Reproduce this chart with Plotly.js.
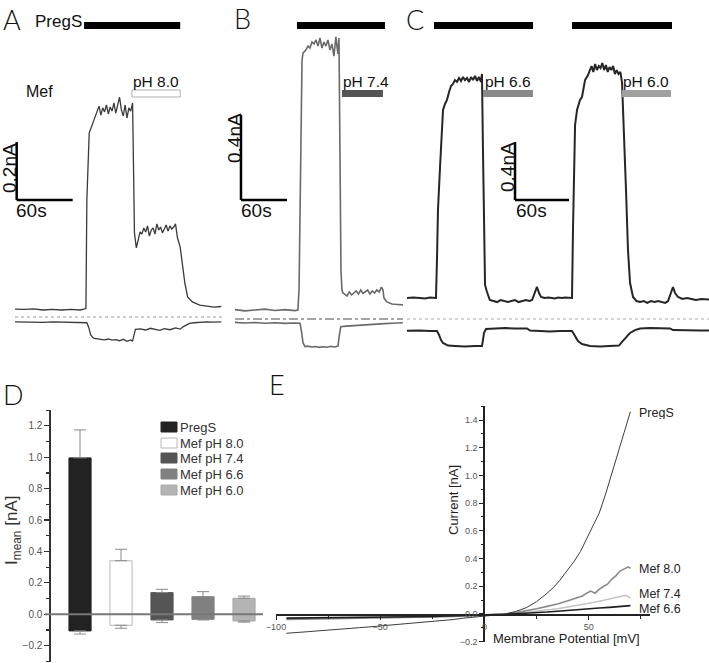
<!DOCTYPE html>
<html><head><meta charset="utf-8">
<script src="https://cdn.plot.ly/plotly-3.0.1.min.js"></script>
<style>html,body{margin:0;padding:0;background:#fff}#plot{width:709px;height:663px}</style>
</head><body><div id="plot"></div>
<script>
// ---------- DATA ----------
// Panel A (PregS then Mef pH 8.0) : time [s], current [nA]
const tA_up = [0,10,20,30,40,50,60,70,76,77,79.5,82,84,86,
  88,90,92,94,96,98,100,102,104,106,108,110,112,114,116,118,120,122,124,126,
  127,128,130,
  132,134,136,138,140,142,144,146,148,150,152,154,156,158,160,162,164,166,168,170,172,
  174,177,180,182,185,190,198,205,213,221];
const iA_up = [0.003,0.002,0.004,0.000,0.002,0.000,0.002,0.000,0.005,0.380,0.610,0.631,0.648,0.668,
  0.686,0.703,0.672,0.697,0.683,0.707,0.676,0.700,0.686,0.714,0.679,0.703,0.734,0.690,0.669,0.707,0.662,0.697,0.686,0.714,
  0.450,0.266,0.214,
  0.248,0.269,0.262,0.283,0.269,0.290,0.255,0.276,0.283,0.262,0.297,0.276,0.286,0.266,0.279,0.293,0.272,0.290,0.279,0.286,0.297,
  0.250,0.217,0.148,0.093,0.045,0.028,0.017,0.014,0.010,0.012];
const tA_lo = [0,10,20,30,40,50,60,70,77,79,81,84,88,92,96,100,104,108,112,116,120,124,126,128,129,
  134,140,145,150,155,160,166,172,177,180,183,187,192,198,205,212,221];
const iA_lo = [-0.041,-0.042,-0.041,-0.043,-0.041,-0.042,-0.041,-0.043,-0.044,-0.060,-0.085,-0.097,
  -0.100,-0.101,-0.103,-0.100,-0.104,-0.102,-0.106,-0.101,-0.108,-0.103,-0.107,-0.075,-0.067,
  -0.065,-0.069,-0.063,-0.066,-0.070,-0.064,-0.068,-0.062,-0.066,-0.058,-0.052,-0.046,-0.044,-0.042,-0.041,-0.042,-0.041];

// Panel B (PregS then Mef pH 7.4)
const tB_up = [0,13,26,39,52,65,78,82,83.5,84.8,86,87.4,88.7,
  90.0,92.6,95.2,97.8,100.4,103.0,105.6,108.2,110.8,113.4,116.0,118.6,121.2,123.8,126.4,129.0,131.6,134.2,
  135.6,136.9,138.2,139.5,140.8,
  143,146,149,152,155,158,161,164,167,170,173,176,179,182,185,188,191,193,
  194.3,198.2,204.7,212,219];
const iB_up = [0.002,-0.004,0.000,0.004,-0.002,0.002,-0.003,0.000,0.094,0.518,0.988,1.176,1.209,
  1.214,1.224,1.242,1.233,1.261,1.252,1.271,1.242,1.280,1.233,1.261,1.242,1.271,1.224,1.252,1.195,1.285,1.205,
  1.280,0.753,0.188,0.094,0.080,
  0.075,0.066,0.085,0.071,0.080,0.090,0.075,0.094,0.078,0.085,0.094,0.075,0.090,0.080,0.094,0.085,0.108,0.094,
  0.056,0.038,0.028,0.026,0.024];
const tB_lo = [0,13,26,39,52,65,78,84.8,87,88.7,91.3,95,100,105,110,115,120,125,130,134.3,136,138,145,155,165,175,185,195,205,219];
const iB_lo = [-0.058,-0.061,-0.059,-0.062,-0.060,-0.063,-0.061,-0.062,-0.108,-0.155,-0.172,-0.170,-0.174,-0.172,-0.176,
  -0.173,-0.175,-0.171,-0.174,-0.170,-0.120,-0.079,-0.076,-0.073,-0.071,-0.068,-0.066,-0.064,-0.062,-0.060];

// Panel C (PregS then Mef pH 6.6, PregS then Mef pH 6.0)
const tC_up = [0,7,14.4,20,25.6,32.2,
  33.3,34.4,36.7,38.9,40,42.2,44.4,46.7,48.9,51.1,53.3,
  55.5,57.8,60.0,62.2,64.4,66.7,68.9,71.1,73.3,75.5,77.8,80.0,82.2,83.3,
  84.4,85.5,86.7,88.9,
  92,96,100,104,108,112,116,120,124,128,132,136,139,
  142.2,144.4,146.7,148.9,
  153,157,161,164,168,172,176,180,183.3,
  184.4,185.5,186.7,188.9,192.2,194.4,197.8,201.1,
  203,205,207,209,211,213,215,217,219,221,223,225,227,229,231,233,235,237,
  238.9,241.1,243.3,245.5,247.8,251.1,
  255,259,263,267,271,275,279,283,287,290,
  292.2,295.5,297.8,301.1,
  306,311,316,321,327,335.5];
const iC_up = [0.000,0.003,0.000,-0.003,0.003,0.000,
  0.262,0.607,0.903,1.207,1.297,1.338,1.366,1.421,1.462,1.476,1.503,
  1.490,1.517,1.497,1.524,1.503,1.517,1.490,1.524,1.503,1.531,1.497,1.524,1.490,1.545,
  1.021,0.331,0.090,0.041,
  -0.014,-0.021,-0.028,-0.014,-0.021,-0.028,-0.021,-0.014,-0.028,-0.021,-0.014,-0.021,-0.014,
  0.041,0.076,0.034,0.007,
  0.000,0.003,0.000,-0.003,0.003,0.000,0.003,0.000,0.000,
  0.469,0.952,1.193,1.297,1.366,1.386,1.503,1.538,
  1.572,1.600,1.559,1.614,1.572,1.600,1.586,1.621,1.572,1.607,1.559,1.593,1.572,1.600,1.545,1.572,1.545,1.559,
  1.483,1.159,0.745,0.331,0.103,0.007,
  -0.021,-0.028,-0.021,-0.034,-0.021,-0.028,-0.021,-0.028,-0.034,-0.021,
  0.021,0.076,0.034,0.007,
  -0.007,0.000,-0.007,-0.014,-0.007,-0.010];
const tC_lo = [0,14.4,25.6,33.3,35.6,37.8,40,45.6,53.3,64.4,75.6,83.3,84.4,85.5,87.8,97.8,108.9,120,133.3,136.7,
  147.8,158.9,170,183.3,186.7,190,194.4,203.3,214.4,225.5,235.5,238.9,243.3,247.8,253.3,258.9,270,281.1,292.2,295.5,
  308.8,325.5,335.5];
const iC_lo = [-0.226,-0.224,-0.228,-0.228,-0.255,-0.290,-0.310,-0.328,-0.331,-0.334,-0.331,-0.331,-0.290,-0.241,-0.214,
  -0.210,-0.207,-0.210,-0.210,-0.224,-0.228,-0.231,-0.228,-0.228,-0.262,-0.297,-0.317,-0.331,-0.334,-0.331,-0.328,
  -0.303,-0.269,-0.241,-0.221,-0.210,-0.207,-0.207,-0.210,-0.221,-0.224,-0.224,-0.224];

// application periods [start, end] in s
const pregsA = [[74,177]], mefA = [[125.3,177]];
const pregsB = [[80.8,195.6]], mefB = [[139.5,193]];
const pregsC = [[30,140],[183.3,294.4]], mefC = [[84.4,140],[238.9,293.3]];
const mefLabels = ['pH 8.0','pH 7.4','pH 6.6','pH 6.0'];

// Panel D
const catsD = ['PregS','Mef pH 8.0','Mef pH 7.4','Mef pH 6.6','Mef pH 6.0'];
const outD = [0.996,0.341,0.138,0.112,0.102];
const outErr = [0.178,0.073,0.021,0.032,0.014];
const inD = [-0.106,-0.070,-0.036,-0.032,-0.043];
const inErr = [0.020,0.019,0.017,0.004,0.007];

// Panel E : membrane potential [mV], current [nA]
const namesE = ['PregS','Mef 8.0','Mef 7.4','Mef 6.6'];
const vPregS = [-95,-90,-85,-80,-75,-70,-65,-60,-55,-50,-45,-40,-35,-30,-25,-20,-15,-10,-5,0,5,10,15,20,25,30,33,36,40,43,46,49,52,55,58,61,64,67,70];
const iPregS = [-0.139,-0.136,-0.128,-0.122,-0.115,-0.110,-0.104,-0.099,-0.093,-0.087,-0.081,-0.075,-0.068,-0.061,-0.055,-0.047,-0.040,-0.030,-0.021,-0.014,-0.008,0.000,0.018,0.045,0.089,0.149,0.190,0.240,0.317,0.380,0.450,0.540,0.630,0.727,0.860,1.005,1.156,1.310,1.460];
const vM80 = [-95,-85,-75,-65,-55,-45,-35,-25,-15,-5,0,5,10,15,20,25,30,35,40,44,47,49,51,53,55,57,59,61,63,65,67,69,70];
const iM80 = [-0.040,-0.038,-0.036,-0.034,-0.031,-0.028,-0.025,-0.022,-0.018,-0.012,-0.008,-0.004,0.000,0.010,0.022,0.038,0.055,0.072,0.095,0.118,0.130,0.150,0.165,0.150,0.178,0.198,0.215,0.250,0.275,0.310,0.325,0.340,0.330];
const vM74 = [-95,-85,-75,-65,-55,-45,-35,-25,-15,-5,0,5,10,15,20,25,30,35,40,45,50,55,60,65,68,70];
const iM74 = [-0.035,-0.033,-0.031,-0.029,-0.027,-0.025,-0.022,-0.019,-0.015,-0.010,-0.007,-0.004,0.000,0.006,0.012,0.020,0.028,0.038,0.050,0.062,0.078,0.092,0.108,0.120,0.135,0.115];
const vM66 = [-95,-85,-75,-65,-55,-45,-35,-25,-15,-5,0,5,10,15,20,25,30,35,40,45,50,55,60,65,70];
const iM66 = [-0.030,-0.029,-0.027,-0.026,-0.024,-0.022,-0.020,-0.017,-0.014,-0.010,-0.008,-0.005,-0.002,0.002,0.005,0.009,0.014,0.020,0.027,0.032,0.038,0.043,0.048,0.054,0.060];

// ---------- STYLE / LAYOUT ----------
const W = 709, H = 663;
const PX = x => x / W, PY = y => 1 - y / H;
const SANS = 'Liberation Sans, Arial, sans-serif';
const LETTER = 'Lato, DejaVu Sans, sans-serif';
const colorsD = ['#222222','#ffffff','#555555','#808080','#b4b4b4'];
const edgeD = ['#222222','#b8b8b8','#555555','#808080','#a8a8a8'];
const mefColors = ['#ffffff','#555555','#8a8a8a','#a0a0a0'];

const traces = [];
function line(x, y, xa, ya, color, width) {
  traces.push({x, y, xaxis: xa, yaxis: ya, type: 'scatter', mode: 'lines',
    line: {color, width, shape: 'linear'}, showlegend: false, hoverinfo: 'skip'});
}
line(tA_up, iA_up, 'x', 'y', '#3a3a3a', 1.3);
line(tA_lo, iA_lo, 'x', 'y', '#3a3a3a', 1.3);
line(tB_up, iB_up, 'x2', 'y2', '#6a6a6a', 1.6);
line(tB_lo, iB_lo, 'x2', 'y2', '#6a6a6a', 1.6);
line(tC_up, iC_up, 'x3', 'y3', '#262626', 2);
line(tC_lo, iC_lo, 'x3', 'y3', '#262626', 2);

// Panel D bars
traces.push({type: 'bar', x: catsD, y: outD, xaxis: 'x4', yaxis: 'y4', width: 0.54,
  marker: {color: colorsD, line: {color: edgeD, width: 1}}, showlegend: false, hoverinfo: 'skip',
  error_y: {type: 'data', symmetric: false, array: outErr, arrayminus: outErr.map(() => 0), color: '#8a8a8a', thickness: 1, width: 6}});
traces.push({type: 'bar', x: catsD, y: inD, xaxis: 'x4', yaxis: 'y4', width: 0.54,
  marker: {color: colorsD, line: {color: edgeD, width: 1}}, showlegend: false, hoverinfo: 'skip',
  error_y: {type: 'data', symmetric: false, array: inErr.map(() => 0), arrayminus: inErr, color: '#8a8a8a', thickness: 1, width: 6}});

// Panel E curves
line(vM74, iM74, 'x5', 'y5', '#c4c4c4', 1.6);
line(vM80, iM80, 'x5', 'y5', '#8a8a8a', 1.6);
line(vM66, iM66, 'x5', 'y5', '#1e1e1e', 1.6);
line(vPregS, iPregS, 'x5', 'y5', '#3c3c3c', 1);

// ---------- shapes ----------
const shapes = [];
// row: 'top' = PregS application bar, 'mef' = Mef application bar
function appBars(list, xref, color, row, outline) {
  const top = row === 'top' ? 22 : 90, bot = row === 'top' ? 29 : 97;
  list.forEach(p => shapes.push({type: 'rect', xref, yref: 'paper', x0: p[0], x1: p[1],
    y0: PY(bot), y1: PY(top), fillcolor: color,
    line: {color: outline || color, width: outline ? 1 : 0}}));
}
appBars(pregsA, 'x', '#000000', 'top');
appBars(pregsB, 'x2', '#000000', 'top');
appBars(pregsC, 'x3', '#000000', 'top');
appBars(mefA, 'x', mefColors[0], 'mef', '#b0b0b0');
appBars(mefB, 'x2', mefColors[1], 'mef');
appBars([mefC[0]], 'x3', mefColors[2], 'mef');
appBars([mefC[1]], 'x3', mefColors[3], 'mef');

function scaleBar(xref, yref, t0, i0, dt, di) {
  shapes.push({type: 'line', xref, yref, x0: t0, x1: t0, y0: i0, y1: i0 + di, line: {color: '#000', width: 2.5}});
  shapes.push({type: 'line', xref, yref, x0: t0, x1: t0 + dt, y0: i0, y1: i0, line: {color: '#000', width: 2.5}});
}
scaleBar('x', 'y', 1.8, 0.379, 60, 0.2);
scaleBar('x2', 'y2', 7.8, 0.518, 60, 0.4);
scaleBar('x3', 'y3', 120, 0.676, 60, 0.4);

// separators between the two channels
shapes.push({type: 'line', xref: 'paper', yref: 'paper', x0: PX(15), x1: PX(222), y0: PY(317), y1: PY(317), line: {color: '#999', width: 1, dash: 'dot'}});
shapes.push({type: 'line', xref: 'paper', yref: 'paper', x0: PX(235), x1: PX(403), y0: PY(319), y1: PY(319), line: {color: '#888', width: 1.5, dash: 'dashdot'}});
shapes.push({type: 'line', xref: 'paper', yref: 'paper', x0: PX(407), x1: PX(709), y0: PY(319), y1: PY(319), line: {color: '#aaa', width: 1, dash: 'dot'}});

// Panel D zero line (drawn over bars)
shapes.push({type: 'line', xref: 'x4', yref: 'y4', x0: -0.854, x1: 4.463, y0: 0, y1: 0, line: {color: '#777', width: 2}, layer: 'above'});

// Panel D legend boxes
const legRows = [427, 443, 458, 474, 490];
catsD.forEach((c, k) => shapes.push({type: 'rect', xref: 'paper', yref: 'paper', x0: PX(161), x1: PX(177),
  y0: PY(legRows[k] + 5), y1: PY(legRows[k] - 5), fillcolor: colorsD[k], line: {color: edgeD[k], width: 1}}));

// ---------- annotations ----------
const annotations = [];
function ann(text, x, y, size, opt) {
  annotations.push(Object.assign({text, xref: 'paper', yref: 'paper', x: PX(x), y: PY(y), showarrow: false,
    xanchor: 'left', yanchor: 'middle', font: {family: SANS, size, color: '#111'}}, opt || {}));
}
const letterFont = {family: LETTER, size: 27, color: '#111', weight: 300};
ann('A', 1, 1, 27, {font: letterFont, yanchor: 'top'});
ann('B', 232, 0, 27, {font: letterFont, yanchor: 'top'});
ann('C', 404, 1, 27, {font: letterFont, yanchor: 'top'});
ann('D', 1, 376, 27, {font: letterFont, yanchor: 'top'});
ann('E', 267, 366, 27, {font: letterFont, yanchor: 'top'});
ann('PregS', 33, 22, 17);
ann('Mef', 24, 92, 16);
ann(mefLabels[0], 131, 81, 15.5);
ann(mefLabels[1], 341, 81, 15.5);
ann(mefLabels[2], 483, 81, 15.5);
ann(mefLabels[3], 621, 81, 15.5);
ann('0.2nA', 9, 168, 19, {xanchor: 'center', textangle: -90});
ann('60s', 14, 210, 19);
ann('0.4nA', 234, 138, 19, {xanchor: 'center', textangle: -90});
ann('60s', 239, 210, 19);
ann('0.4nA', 507, 167, 19, {xanchor: 'center', textangle: -90});
ann('60s', 514, 210, 19);
// Panel D
ann('I<sub>mean</sub> [nA]', 13, 531, 17, {xanchor: 'center', textangle: -90, font: {family: SANS, size: 17, color: '#333'}});
catsD.forEach((c, k) => ann(c, 178, legRows[k], 13, {font: {family: SANS, size: 13, color: '#333'}}));
// Panel E
ann('Current [nA]', 453, 500, 13, {xanchor: 'center', textangle: -90, font: {family: SANS, size: 13, color: '#222'}});
ann('Membrane Potential [mV]', 491, 638, 13, {font: {family: SANS, size: 13, color: '#222'}});
const labYE = [413, 569, 594, 609];
namesE.forEach((n, k) => ann(n, 637, labYE[k], 12.5, {height: 12, font: {family: SANS, size: 12.5, color: '#222'}}));

const hidden = {visible: false, fixedrange: true};
const topDom = [PY(350), PY(0)];
const layout = {
  width: W, height: H, margin: {l: 0, r: 0, t: 0, b: 0},
  paper_bgcolor: '#fff', plot_bgcolor: 'rgba(0,0,0,0)', showlegend: false, hovermode: false,
  font: {family: SANS},
  barmode: 'overlay',
  xaxis: Object.assign({domain: [PX(15), PX(222)], range: [0, 221.8], anchor: 'y'}, hidden),
  yaxis: Object.assign({domain: topDom, range: [-40 / 290, 310 / 290], anchor: 'x'}, hidden),
  xaxis2: Object.assign({domain: [PX(235), PX(403)], range: [0, 219.1], anchor: 'y2'}, hidden),
  yaxis2: Object.assign({domain: topDom, range: [-40 / 212.5, 310 / 212.5], anchor: 'x2'}, hidden),
  xaxis3: Object.assign({domain: [PX(407), 1], range: [0, 335.5], anchor: 'y3'}, hidden),
  yaxis3: Object.assign({domain: topDom, range: [-52 / 145, 298 / 145], anchor: 'x3'}, hidden),
  xaxis4: Object.assign({domain: [PX(45), PX(263)], range: [-0.854, 4.463], anchor: 'y4', type: 'category'}, hidden),
  yaxis4: {domain: [PY(661.7), PY(410)], range: [-0.302, 1.301], anchor: 'free', position: PX(49.3),
    showline: true, linecolor: '#333', linewidth: 1.5, ticks: 'outside', ticklen: 5, tickwidth: 1.2, tickcolor: '#333',
    dtick: 0.2, tick0: 0, tickformat: '.1f', showgrid: false, zeroline: false,
    tickfont: {family: SANS, size: 10, color: '#555'},
    minor: {dtick: 0.1, tick0: 0, ticks: 'outside', ticklen: 3, tickcolor: '#333', showgrid: false}},
  xaxis5: {domain: [PX(276), PX(650)], range: [-100, 79.4], anchor: 'free', position: PY(614),
    showline: true, linecolor: '#222', linewidth: 1.5, ticks: 'outside', ticklen: 4, tickcolor: '#222',
    dtick: 50, tick0: 0, showgrid: false, zeroline: false,
    tickfont: {family: SANS, size: 9, color: '#555'},
    minor: {dtick: 25, tick0: 0, ticks: 'outside', ticklen: 3, tickcolor: '#222', showgrid: false}},
  yaxis5: {domain: [PY(641.7), PY(406)], range: [-0.2, 1.501], anchor: 'free', position: PX(483.3),
    showline: true, linecolor: '#222', linewidth: 1.5, ticks: 'outside', ticklen: 4, tickcolor: '#222',
    dtick: 0.2, tick0: 0, tickformat: '.1f', showgrid: false, zeroline: false,
    tickfont: {family: SANS, size: 9, color: '#555'},
    minor: {dtick: 0.1, tick0: 0, ticks: 'outside', ticklen: 2.5, tickcolor: '#222', showgrid: false}},
  shapes, annotations
};
Plotly.newPlot('plot', traces, layout, {staticPlot: true, displayModeBar: false});
</script></body></html>
